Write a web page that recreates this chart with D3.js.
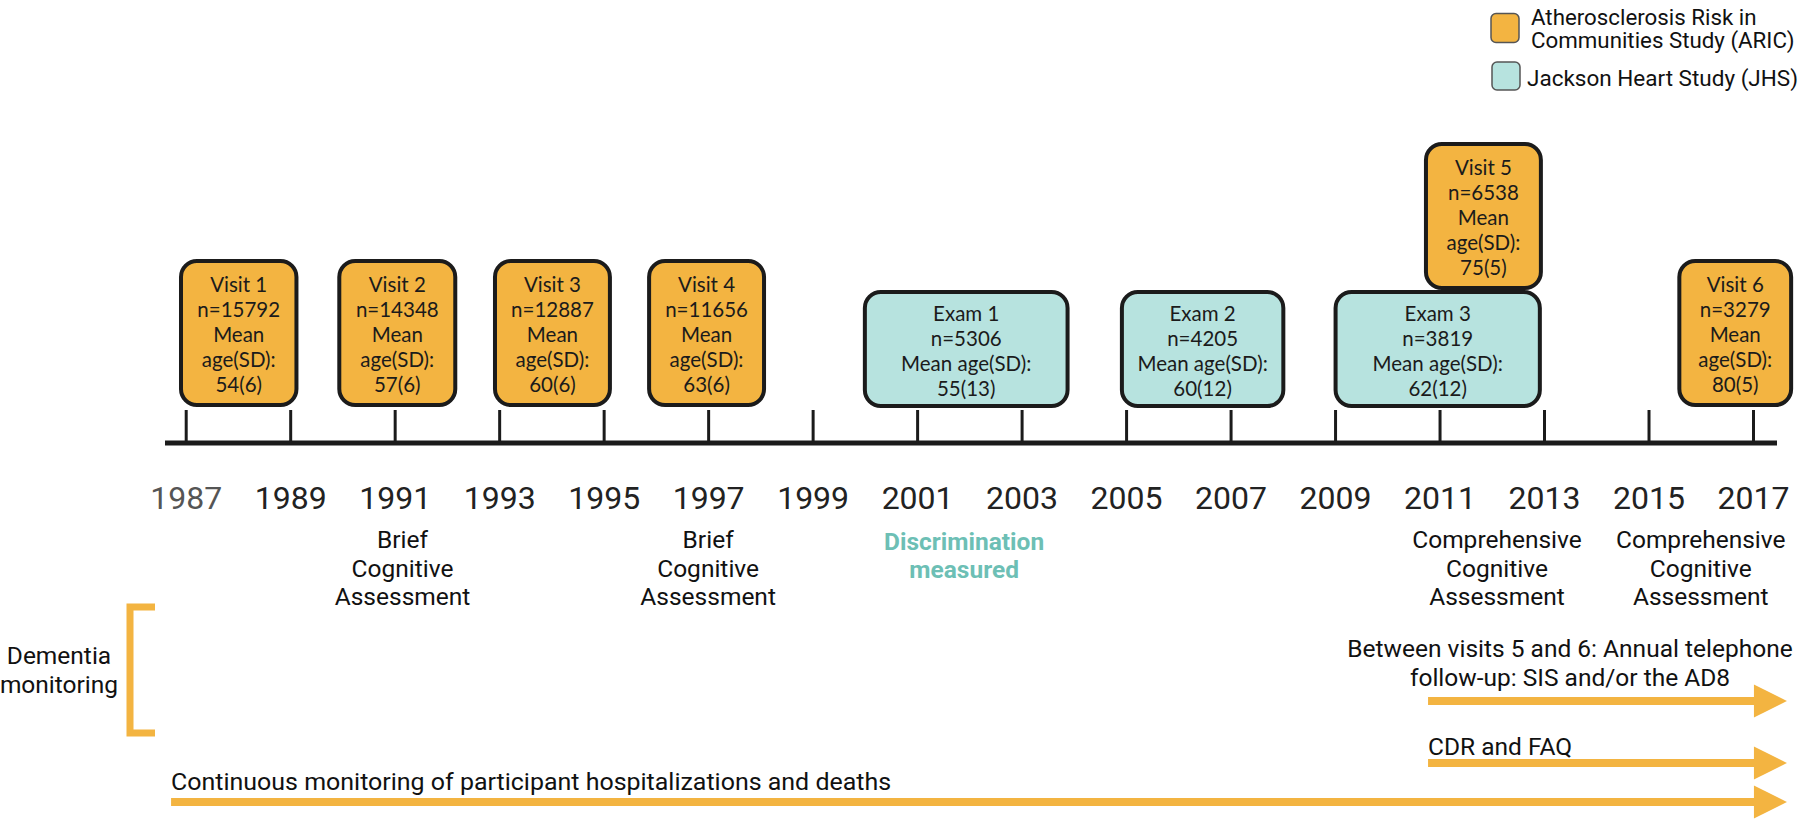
<!DOCTYPE html>
<html>
<head>
<meta charset="utf-8">
<script src="https://cdn.jsdelivr.net/npm/d3@7"></script>
<style>
  html, body { margin: 0; padding: 0; background: #ffffff; }
  svg { display: block; }
</style>
</head>
<body>
<script>
// ---------- data ----------
const tickYears = [1987, 1989, 1991, 1993, 1995, 1997, 1999, 2001, 2003, 2005, 2007, 2009, 2011, 2013, 2015, 2017];

const aricVisits = ["Visit 1", "Visit 2", "Visit 3", "Visit 4", "Visit 5", "Visit 6"];
const aricN      = [15792, 14348, 12887, 11656, 6538, 3279];
const aricMean   = [54, 57, 60, 63, 75, 80];
const aricSD     = [6, 6, 6, 6, 5, 5];
const aricStart  = [1986.91, 1989.94, 1992.92, 1995.87, 2010.74, 2015.59];
const aricEnd    = [1989.12, 1992.16, 1995.12, 1998.07, 2012.94, 2017.73];

const jhsExams   = ["Exam 1", "Exam 2", "Exam 3"];
const jhsN       = [5306, 4205, 3819];
const jhsMean    = [55, 60, 62];
const jhsSD      = [13, 12, 12];
const jhsStart   = [2000.0, 2004.92, 2009.01];
const jhsEnd     = [2003.88, 2008.01, 2012.92];

const cogYears   = [1991.15, 1997.0, 2012.1, 2016.0];
const cogLabels  = [["Brief", "Cognitive", "Assessment"], ["Brief", "Cognitive", "Assessment"],
                    ["Comprehensive", "Cognitive", "Assessment"], ["Comprehensive", "Cognitive", "Assessment"]];
const discrimYear  = 2001.9;
const discrimLabel = ["Discrimination", "measured"];

const arrowLabels = [["Between visits 5 and 6: Annual telephone", "follow-up: SIS and/or the AD8"], ["CDR and FAQ"], ["Continuous monitoring of participant hospitalizations and deaths"]];
const arrowStart  = [2010.78, 2010.78, 1986.72];
const arrowEnd    = [2017.65, 2017.65, 2017.65];

const legendLabels = [["Atherosclerosis Risk in", "Communities Study (ARIC)"], ["Jackson Heart Study (JHS)"]];

// ---------- style ----------
const W = 1800, H = 822;
const ORANGE = "#F3B441", TEAL = "#B7E3DF", TEAL_TEXT = "#6DBFB5", DARK = "#1b1b1b";
const boxFont = "Lato, 'DejaVu Sans', sans-serif";
const textFont = "Roboto, 'Noto Sans', sans-serif";

const svg = d3.select("body").append("svg").attr("width", W).attr("height", H);

const x = d3.scaleLinear().domain([1987, 2017]).range([185.7, 1753]);
const axisY = 443;

// axis line
svg.append("line").attr("x1", 165).attr("x2", 1777).attr("y1", axisY).attr("y2", axisY)
  .attr("stroke", DARK).attr("stroke-width", 5);

// ticks and labels via d3 axis
const axis = d3.axisBottom(x).tickValues(tickYears).tickFormat(d3.format("d"))
  .tickSizeInner(-31).tickSizeOuter(0).tickPadding(45);
const gAxis = svg.append("g").attr("transform", `translate(0,${axisY - 2})`).call(axis);
gAxis.select(".domain").remove();
gAxis.selectAll(".tick line").attr("stroke", DARK).attr("stroke-width", 3);
gAxis.selectAll(".tick text").attr("font-family", textFont).attr("font-size", 32)
  .attr("fill", (d, i) => i === 0 ? "#555555" : "#222222");

// ---------- boxes ----------
function overlapsJHS(s, e) {
  return jhsStart.some((js, j) => s < jhsEnd[j] && e > js);
}
const aric = aricVisits.map((v, i) => ({
  lines: [v, "n=" + aricN[i], "Mean", "age(SD):", `${aricMean[i]}(${aricSD[i]})`],
  s: aricStart[i], e: aricEnd[i], raised: overlapsJHS(aricStart[i], aricEnd[i])
}));
const jhs = jhsExams.map((v, i) => ({
  lines: [v, "n=" + jhsN[i], "Mean age(SD):", `${jhsMean[i]}(${jhsSD[i]})`],
  s: jhsStart[i], e: jhsEnd[i]
}));

function drawBoxes(data, fill, topFn, h, firstBase) {
  const g = svg.append("g").selectAll("g").data(data).join("g");
  g.append("rect")
    .attr("x", d => x(d.s)).attr("width", d => x(d.e) - x(d.s))
    .attr("y", d => topFn(d)).attr("height", h)
    .attr("rx", 16).attr("ry", 16)
    .attr("fill", fill).attr("stroke", DARK).attr("stroke-width", 4);
  g.each(function (d) {
    const cx = (x(d.s) + x(d.e)) / 2;
    d3.select(this).selectAll("text").data(d.lines).join("text")
      .attr("x", cx).attr("y", (t, k) => topFn(d) + firstBase + k * 25)
      .attr("text-anchor", "middle").attr("font-family", boxFont).attr("font-size", 20.5)
      .attr("fill", DARK).text(t => t);
  });
}
drawBoxes(aric, ORANGE, d => d.raised ? 144 : 261, 144, 31);
drawBoxes(jhs, TEAL, d => 292, 114, 29);

// ---------- annotations below axis ----------
cogYears.forEach((yr, i) => {
  svg.append("g").selectAll("text").data(cogLabels[i]).join("text")
    .attr("x", x(yr)).attr("y", (t, k) => 548 + k * 28.5)
    .attr("text-anchor", "middle").attr("font-family", textFont).attr("font-size", 24.5)
    .attr("fill", "#111").text(t => t);
});
svg.append("g").selectAll("text").data(discrimLabel).join("text")
  .attr("x", x(discrimYear)).attr("y", (t, k) => 550 + k * 28)
  .attr("text-anchor", "middle").attr("font-family", textFont).attr("font-size", 24.5)
  .attr("font-weight", 700).attr("fill", TEAL_TEXT).text(t => t);

// ---------- dementia monitoring ----------
svg.append("path").attr("d", "M155,607 H130 V733 H155").attr("fill", "none")
  .attr("stroke", ORANGE).attr("stroke-width", 7);
svg.append("g").selectAll("text").data(["Dementia", "monitoring"]).join("text")
  .attr("x", 59).attr("y", (t, k) => 664 + k * 29)
  .attr("text-anchor", "middle").attr("font-family", textFont).attr("font-size", 24.5)
  .attr("fill", "#111").text(t => t);

const arrowY = [701, 763, 802];
arrowStart.forEach((s, i) => {
  const x0 = x(s), tip = x(arrowEnd[i]), base = tip - 33, y = arrowY[i];
  svg.append("line").attr("x1", x0).attr("x2", base + 1).attr("y1", y).attr("y2", y)
    .attr("stroke", ORANGE).attr("stroke-width", 8);
  svg.append("path").attr("d", `M${base},${y - 16.5} L${tip},${y} L${base},${y + 16.5} Z`)
    .attr("fill", ORANGE);
});
// arrow labels
svg.append("g").selectAll("text").data(arrowLabels[0]).join("text")
  .attr("x", 1570).attr("y", (t, k) => 657 + k * 29)
  .attr("text-anchor", "middle").attr("font-family", textFont).attr("font-size", 24.5)
  .attr("fill", "#111").text(t => t);
svg.append("text").attr("x", x(arrowStart[1])).attr("y", 755)
  .attr("font-family", textFont).attr("font-size", 24.5).attr("fill", "#111").text(arrowLabels[1][0]);
svg.append("text").attr("x", x(arrowStart[2])).attr("y", 790)
  .attr("font-family", textFont).attr("font-size", 24.5).attr("fill", "#111")
  .attr("textLength", 720).attr("lengthAdjust", "spacingAndGlyphs").text(arrowLabels[2][0]);

// ---------- legend ----------
const lg = svg.append("g");
lg.append("rect").attr("x", 1491).attr("y", 13.5).attr("width", 28).attr("height", 29).attr("rx", 5)
  .attr("fill", ORANGE).attr("stroke", "#555").attr("stroke-width", 1.5);
lg.selectAll("text.l1").data(legendLabels[0]).join("text").attr("class", "l1")
  .attr("x", 1531).attr("y", (t, k) => 25 + k * 23)
  .attr("font-family", textFont).attr("font-size", 22.3).attr("fill", "#111").text(t => t);
lg.append("rect").attr("x", 1492).attr("y", 62).attr("width", 28).attr("height", 28).attr("rx", 5)
  .attr("fill", TEAL).attr("stroke", "#555").attr("stroke-width", 1.5);
lg.append("text").attr("x", 1527).attr("y", 86)
  .attr("font-family", textFont).attr("font-size", 22.5).attr("fill", "#111").text(legendLabels[1][0]);
</script>
</body>
</html>
